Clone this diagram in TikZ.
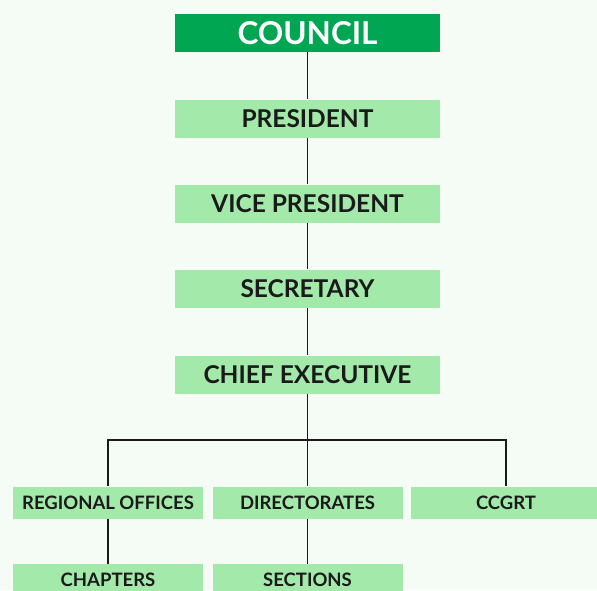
\documentclass[tikz,border=0pt]{standalone}
\usepackage{fontspec}
\setmainfont{Lato}
\definecolor{pagebg}{HTML}{F5FCF5}
\definecolor{boxgreen}{HTML}{A2E9AA}
\definecolor{topgreen}{HTML}{00A651}
\definecolor{inkdark}{HTML}{1A1A1A}
\begin{document}
\begin{tikzpicture}[x=1pt,y=-1pt,
    post/.style={fill=boxgreen,text=inkdark,font=\bfseries\fontsize{24.5}{26}\selectfont,
      minimum width=265pt,minimum height=38pt,inner sep=0pt},
    unit/.style={fill=boxgreen,text=inkdark,font=\bfseries\fontsize{18.5}{20}\selectfont,
      minimum width=190pt,minimum height=32pt,inner sep=0pt},
    link/.style={draw=inkdark,line width=1.3pt}]
        \useasboundingbox (0,0) rectangle (597,590);
        \clip (0,0) rectangle (597,590);
        \fill[pagebg] (0,0) rectangle (597,590);

        % the chain of offices
        \node[post,fill=topgreen,text=white,font=\bfseries\fontsize{31.5}{33}\selectfont] (council) at (307.5,33) {COUNCIL};
        \node[post] (president) at (307.5,118.5) {PRESIDENT};
        \node[post] (vice) at (307.5,203.5) {VICE PRESIDENT};
        \node[post] (secretary) at (307.5,288.5) {SECRETARY};
        \node[post] (chief) at (307.5,374.5) {CHIEF EXECUTIVE};

        % the units under the chief executive
        \coordinate (bar) at (307.5,440);
        \node[unit] (regional) at (108,502.5) {REGIONAL OFFICES};
        \node[unit] (director) at (307.5,502.5) {DIRECTORATES};
        \node[unit] (ccgrt) at (506,502.5) {CCGRT};
        \node[unit] (chapters) at (108,580) {CHAPTERS};
        \node[unit] (sections) at (307.5,580) {SECTIONS};

        \draw[link] (council) -- (president);
        \draw[link] (president) -- (vice);
        \draw[link] (vice) -- (secretary);
        \draw[link] (secretary) -- (chief);
        \draw[link] (chief) -- (bar);
        \draw[link] (bar) -| (regional);
        \draw[link] (bar) -| (ccgrt);
        \draw[link] (bar) -- (director);
        \draw[link] (regional) -- (chapters);
        \draw[link] (director) -- (sections);
    \end{tikzpicture}
\end{document}
